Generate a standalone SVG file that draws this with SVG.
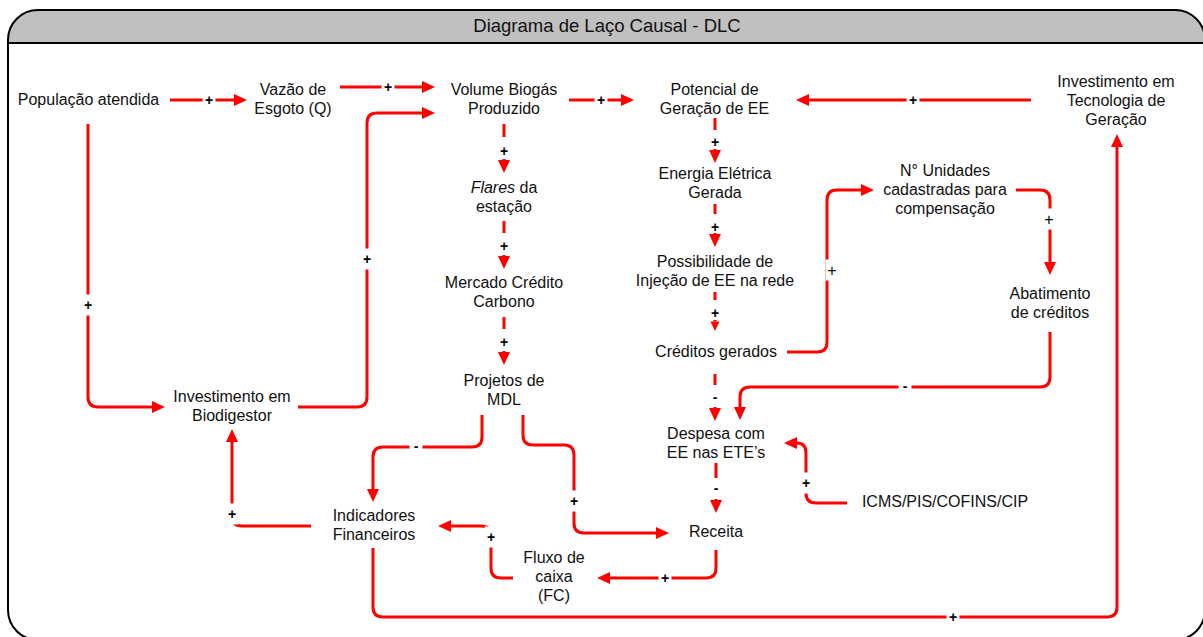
<svg xmlns="http://www.w3.org/2000/svg" width="1203" height="637" viewBox="0 0 1203 637">
  <style>
    .node text { font-family: "Liberation Sans", Arial, sans-serif; font-size: 16px; fill: #111; text-anchor: middle; }
    .link { fill: none; stroke: #ff0000; stroke-width: 3; }
    .arrow { marker-end: url(#ah); }
    .arrow-s { marker-end: url(#ahs); }
    .bg { fill: #ffffff; }
    .sign { font-family: "Liberation Sans", Arial, sans-serif; font-size: 14px; font-weight: bold; fill: #000; text-anchor: middle; }
    .sign.thin { font-weight: normal; font-size: 16px; }
    .title { font-family: "Liberation Sans", Arial, sans-serif; font-size: 18.5px; fill: #111; text-anchor: middle; }
  </style>
  <defs>
    <marker id="ah" markerUnits="userSpaceOnUse" markerWidth="14" markerHeight="12" refX="0" refY="6" orient="auto" overflow="visible">
      <path d="M0,0 L13,6 L0,12 z" fill="#ff0000"/>
    </marker>
    <marker id="ahs" markerUnits="userSpaceOnUse" markerWidth="10" markerHeight="9" refX="0" refY="4.5" orient="auto" overflow="visible">
      <path d="M0,0 L9.5,4.5 L0,9 z" fill="#ff0000"/>
    </marker>
  </defs>

  <!-- frame with grey title band -->
  <g id="frame">
    <path d="M8,43 V40 A30,30 0 0 1 38,10 H1175 A30,30 0 0 1 1205,40 V43 Z" fill="#c0c0c0"/>
    <path d="M8,40 A30,30 0 0 1 38,10 H1175 A30,30 0 0 1 1205,40 V610 A30,30 0 0 1 1175,640 H38 A30,30 0 0 1 8,610 Z" fill="none" stroke="#000" stroke-width="2"/>
    <line x1="8" y1="43" x2="1205" y2="43" stroke="#000" stroke-width="2"/>
    <text class="title" x="607" y="32">Diagrama de Laço Causal - DLC</text>
  </g>

  <!-- causal links -->
  <g id="connectors">
    <!-- solid links -->
    <path class="link arrow" d="M170,100 H234"/>
    <path class="link arrow" d="M340,87 H422"/>
    <path class="link arrow" d="M298,407 H357 Q367,407 367,397 V123 Q367,113 377,113 H422"/>
    <path class="link arrow" d="M569,100 H621"/>
    <path class="link arrow" d="M1031,100 H809"/>
    <path class="link arrow" d="M88,124 V397 Q88,407 98,407 H152"/>
    <path class="link arrow" d="M311,526 H242 Q232,526 232,516 V442"/>
    <path class="link arrow" d="M482,415 V437 Q482,447 472,447 H383 Q373,447 373,457 V489"/>
    <path class="link arrow" d="M523,415 V435 Q523,445 533,445 H564 Q574,445 574,455 V523 Q574,533 584,533 H656"/>
    <path class="link arrow" d="M716,550 V568 Q716,578 706,578 H610"/>
    <path class="link arrow" d="M513,578 H501 Q491,578 491,568 V536 Q491,526 481,526 H451"/>
    <path class="link arrow" d="M373,548 V607 Q373,617 383,617 H1107 Q1117,617 1117,607 V147"/>
    <path class="link arrow" d="M787,352 H817 Q827,352 827,342 V200 Q827,190 837,190 H861"/>
    <path class="link arrow" d="M1016,190 H1040 Q1050,190 1050,200 V262"/>
    <path class="link arrow" d="M1050,332 V377 Q1050,387 1040,387 H750 Q740,387 740,397 V407"/>
    <path class="link arrow" d="M847,503 H816 Q806,503 806,493 V453 Q806,443 797,443"/>

    <!-- broken vertical links, left column -->
    <path class="link" d="M504,124 V137 M504,221 V233 M504,317 V329"/>
    <path class="link arrow" d="M504,159 V160"/>
    <path class="link arrow" d="M504,255 V256"/>
    <path class="link arrow" d="M504,351 V352"/>

    <!-- broken vertical links, middle column -->
    <path class="link" d="M715,118 V130 M715,204 V214 M715,292 V300 M715,374 V385 M716,463 V478"/>
    <path class="link arrow" d="M715,149 V150"/>
    <path class="link arrow" d="M715,233 V234"/>
    <path class="link arrow-s" d="M715,320 V321.5"/>
    <path class="link arrow" d="M715,407 V408"/>
    <path class="link arrow" d="M716,499 V500"/>

    <!-- polarity signs -->
    <g>
      <rect class="bg" x="202.5" y="89.5" width="13" height="21"/><text class="sign" x="209" y="105">+</text>
      <rect class="bg" x="381.5" y="76.5" width="13" height="21"/><text class="sign" x="388" y="92">+</text>
      <rect class="bg" x="360.5" y="248.5" width="13" height="21"/><text class="sign" x="367" y="264">+</text>
      <rect class="bg" x="594.5" y="89.5" width="13" height="21"/><text class="sign" x="601" y="105">+</text>
      <rect class="bg" x="906.5" y="89.5" width="13" height="21"/><text class="sign" x="913" y="105">+</text>
      <rect class="bg" x="81.5" y="294.5" width="13" height="21"/><text class="sign" x="88" y="310">+</text>
      <rect class="bg" x="225.5" y="503.5" width="13" height="21"/><text class="sign" x="232" y="519">+</text>
      <rect class="bg" x="409.5" y="436.5" width="13" height="21"/><text class="sign" x="416" y="451">-</text>
      <rect class="bg" x="567.5" y="490.5" width="13" height="21"/><text class="sign" x="574" y="506">+</text>
      <rect class="bg" x="658.5" y="567.5" width="13" height="21"/><text class="sign" x="665" y="583">+</text>
      <rect class="bg" x="484.5" y="526.5" width="13" height="21"/><text class="sign" x="491" y="542">+</text>
      <rect class="bg" x="946.5" y="606.5" width="13" height="21"/><text class="sign" x="953" y="622">+</text>
      <rect class="bg" x="825.5" y="259.5" width="13" height="21"/><text class="sign thin" x="832" y="276">+</text>
      <rect class="bg" x="1042.5" y="208.5" width="13" height="21"/><text class="sign thin" x="1049" y="225">+</text>
      <rect class="bg" x="898.5" y="376.5" width="13" height="21"/><text class="sign" x="905" y="391">-</text>
      <rect class="bg" x="799.5" y="472.5" width="13" height="21"/><text class="sign" x="806" y="488">+</text>
      <text class="sign" x="504" y="156">+</text>
      <text class="sign" x="504" y="251">+</text>
      <text class="sign" x="504" y="347">+</text>
      <text class="sign" x="715" y="147">+</text>
      <text class="sign" x="715" y="232">+</text>
      <text class="sign" x="715" y="318">+</text>
      <text class="sign" x="715" y="402">-</text>
      <text class="sign" x="716" y="493">-</text>
    </g>
  </g>

  <!-- variables -->
  <g id="populacao" class="node"><text><tspan x="88.5" y="105">População atendida</tspan></text></g>
  <g id="vazao" class="node"><text><tspan x="293" y="95">Vazão de</tspan><tspan x="293" y="114">Esgoto (Q)</tspan></text></g>
  <g id="volume-biogas" class="node"><text><tspan x="504" y="95">Volume Biogás</tspan><tspan x="504" y="114">Produzido</tspan></text></g>
  <g id="potencial" class="node"><text><tspan x="714.5" y="95">Potencial de</tspan><tspan x="714.5" y="114">Geração de EE</tspan></text></g>
  <g id="invest-tecnologia" class="node"><text><tspan x="1116" y="87">Investimento em</tspan><tspan x="1116" y="106">Tecnologia de</tspan><tspan x="1116" y="125">Geração</tspan></text></g>
  <g id="flares" class="node"><text><tspan x="504" y="193"><tspan font-style="italic">Flares</tspan> da</tspan><tspan x="504" y="212">estação</tspan></text></g>
  <g id="mercado-carbono" class="node"><text><tspan x="504" y="288">Mercado Crédito</tspan><tspan x="504" y="307">Carbono</tspan></text></g>
  <g id="projetos-mdl" class="node"><text><tspan x="504" y="386">Projetos de</tspan><tspan x="504" y="405">MDL</tspan></text></g>
  <g id="energia-gerada" class="node"><text><tspan x="715" y="179">Energia Elétrica</tspan><tspan x="715" y="198">Gerada</tspan></text></g>
  <g id="injecao" class="node"><text><tspan x="715" y="267">Possibilidade de</tspan><tspan x="715" y="286">Injeção de EE na rede</tspan></text></g>
  <g id="creditos" class="node"><text><tspan x="716" y="357">Créditos gerados</tspan></text></g>
  <g id="despesa" class="node"><text><tspan x="716" y="439">Despesa com</tspan><tspan x="716" y="458">EE nas ETE’s</tspan></text></g>
  <g id="receita" class="node"><text><tspan x="716" y="537">Receita</tspan></text></g>
  <g id="tributos" class="node"><text><tspan x="945" y="507">ICMS/PIS/COFINS/CIP</tspan></text></g>
  <g id="fluxo-caixa" class="node"><text><tspan x="554" y="563">Fluxo de</tspan><tspan x="554" y="582">caixa</tspan><tspan x="554" y="601">(FC)</tspan></text></g>
  <g id="indicadores" class="node"><text><tspan x="374" y="521">Indicadores</tspan><tspan x="374" y="540">Financeiros</tspan></text></g>
  <g id="invest-biodigestor" class="node"><text><tspan x="232" y="402">Investimento em</tspan><tspan x="232" y="421">Biodigestor</tspan></text></g>
  <g id="unidades" class="node"><text><tspan x="945" y="176">N° Unidades</tspan><tspan x="945" y="195">cadastradas para</tspan><tspan x="945" y="214">compensação</tspan></text></g>
  <g id="abatimento" class="node"><text><tspan x="1050" y="299">Abatimento</tspan><tspan x="1050" y="318">de créditos</tspan></text></g>
</svg>
